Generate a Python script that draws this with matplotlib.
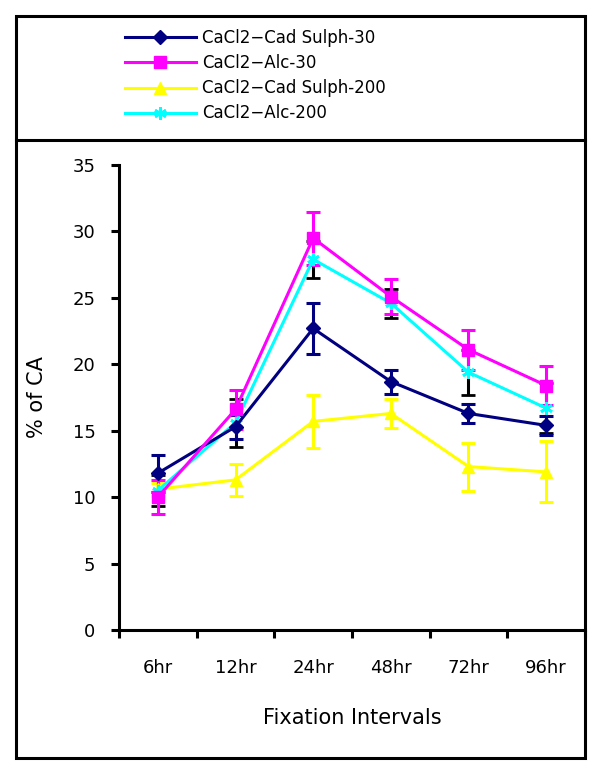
import matplotlib.pyplot as plt
from matplotlib.patches import Rectangle
from matplotlib.lines import Line2D

plt.rcParams['font.family'] = ['DejaVu Sans']

# Donnees
intervals = ['6hr', '12hr', '24hr', '48hr', '72hr', '96hr']

sulph30 = [11.8, 15.3, 22.7, 18.7, 16.3, 15.4]
sulph30_err = [1.4, 0.9, 1.9, 0.9, 0.7, 0.7]

alc30 = [10.0, 16.6, 29.5, 25.1, 21.1, 18.4]
alc30_err = [1.3, 1.5, 2.0, 1.3, 1.5, 1.5]

sulph200 = [10.6, 11.3, 15.7, 16.3, 12.3, 11.9]
sulph200_err = [0.5, 1.2, 2.0, 1.1, 1.8, 2.3]

alc200 = [10.5, 15.6, 27.9, 24.6, 19.4, 16.7]
alc200_err = [1.2, 1.8, 1.4, 1.1, 1.7, 1.9]

labels = ['CaCl2−Cad Sulph-30', 'CaCl2−Alc-30', 'CaCl2−Cad Sulph-200', 'CaCl2−Alc-200']

fig = plt.figure(figsize=(6, 7.75), dpi=100)
ax = fig.add_axes([119 / 600, 1 - 630 / 775, (585 - 119) / 600, (630 - 165) / 775])

x = [i + 0.5 for i in range(len(intervals))]

# Tracer les series (ordre : jaune, cyan, bleu, rose)
ax.errorbar(x, sulph200, yerr=sulph200_err, color='#FFFF00', ecolor='#FFFF00',
            marker='^', markersize=8, lw=2.2, elinewidth=2.2, capsize=5, capthick=2.2)
ax.errorbar(x, alc200, yerr=alc200_err, color='#00FFFF', ecolor='black',
            marker=(6, 2, 0), markersize=9, markeredgewidth=2, lw=2.2,
            elinewidth=2.2, capsize=5, capthick=2.2)
ax.errorbar(x, sulph30, yerr=sulph30_err, color='#000080', ecolor='#000080',
            marker='D', markersize=7, lw=2.2, elinewidth=2.2, capsize=5, capthick=2.2)
ax.errorbar(x, alc30, yerr=alc30_err, color='#FF00FF', ecolor='#FF00FF',
            marker='s', markersize=8, lw=2.2, elinewidth=2.2, capsize=5, capthick=2.2)

# Axes
ax.set_xlim(0, len(intervals))
ax.set_ylim(0, 35)
ax.set_xticks(range(len(intervals) + 1))
ax.set_xticklabels([])
ax.set_xticks(x, minor=True)
ax.set_xticklabels(intervals, minor=True, fontsize=13)
ax.tick_params(axis='x', which='minor', length=0, pad=21)
ax.tick_params(axis='x', which='major', length=6, width=2.2, direction='out')
ax.set_yticks(range(0, 36, 5))
ax.tick_params(axis='y', length=6, width=2.2, direction='out', labelsize=13, pad=11)
for s in ['top', 'right']:
    ax.spines[s].set_visible(False)
for s in ['left', 'bottom']:
    ax.spines[s].set_linewidth(2.2)

ax.set_xlabel('Fixation Intervals', fontsize=15, labelpad=22)
ax.set_ylabel('% of CA', fontsize=15, labelpad=18)

# Cadre exterieur et separation de la legende
fig.patches.append(Rectangle((16 / 600, 1 - 758 / 775), (585 - 16) / 600, (758 - 16) / 775,
                             transform=fig.transFigure, fill=False, lw=2.2, ec='black'))
fig.lines.append(Line2D([16 / 600, 585 / 600], [1 - 140 / 775, 1 - 140 / 775],
                        transform=fig.transFigure, color='black', lw=2.2))

# Legende
handles = [
    Line2D([], [], color='#000080', marker='D', markersize=7, lw=2.2),
    Line2D([], [], color='#FF00FF', marker='s', markersize=8, lw=2.2),
    Line2D([], [], color='#FFFF00', marker='^', markersize=8, lw=2.2),
    Line2D([], [], color='#00FFFF', marker=(6, 2, 0), markersize=9, markeredgewidth=2, lw=2.2),
]
fig.legend(handles, labels, loc='upper left', bbox_to_anchor=(125 / 600, 1 - 29 / 775),
           frameon=False, fontsize=12, handlelength=4.25, handletextpad=0.4,
           labelspacing=0.43, borderpad=0, borderaxespad=0)

plt.savefig('out.png', dpi=100)
